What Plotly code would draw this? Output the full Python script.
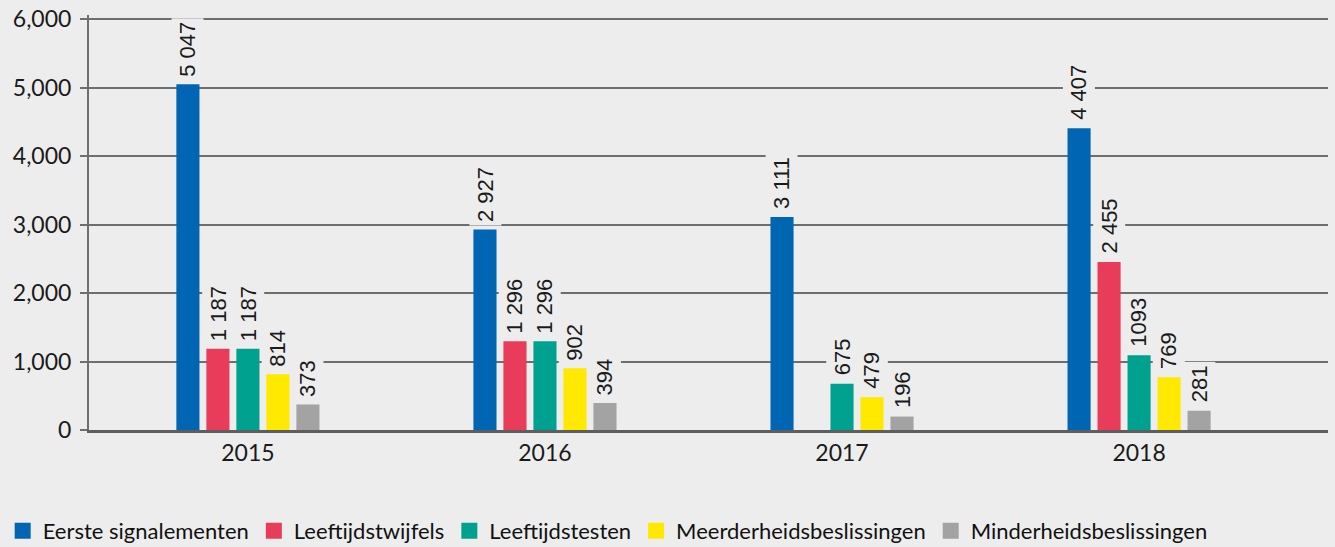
import plotly.graph_objects as go

years = ["2015", "2016", "2017", "2018"]
series_names = ["Eerste signalementen", "Leeftijdstwijfels", "Leeftijdstesten",
                "Meerderheidsbeslissingen", "Minderheidsbeslissingen"]
eerste = [5047, 2927, 3111, 4407]
twijfels = [1187, 1296, None, 2455]
testen = [1187, 1296, 675, 1093]
meerderheid = [814, 902, 479, 769]
minderheid = [373, 394, 196, 281]

eerste_lbl = ["5 047", "2 927", "3 111", "4 407"]
twijfels_lbl = ["1 187", "1 296", "", "2 455"]
testen_lbl = ["1 187", "1 296", "675", "1093"]
meerderheid_lbl = ["814", "902", "479", "769"]
minderheid_lbl = ["373", "394", "196", "281"]

colors = ["#0066b3", "#e83c5a", "#00a28f", "#ffe900", "#a3a3a3"]
values = [eerste, twijfels, testen, meerderheid, minderheid]
labels = [eerste_lbl, twijfels_lbl, testen_lbl, meerderheid_lbl, minderheid_lbl]

BG = "#ededed"
bargap = 0.495
n = len(series_names)
slot = (1 - bargap) / n

fig = go.Figure()
annotations = []
for k, (name, vals, lbls, col) in enumerate(zip(series_names, values, labels, colors)):
    fig.add_trace(go.Bar(x=years, y=vals, name=name, legendgroup=name, showlegend=False,
                         marker=dict(color=col, line=dict(width=0))))
    for i, (v, t) in enumerate(zip(vals, lbls)):
        if v is None:
            continue
        annotations.append(dict(
            x=i + (k - (n - 1) / 2) * slot, y=v, xref="x", yref="y",
            text=t, textangle=-90, showarrow=False,
            xanchor="center", yanchor="bottom", yshift=4,
            bgcolor=BG, borderpad=3,
            font=dict(family="Liberation Sans, Arial, sans-serif", size=22, color="#1a1a1a"),
        ))

# legend entries (square swatches)
for name, col in zip(series_names, colors):
    fig.add_trace(go.Scatter(x=[None], y=[None], mode="markers", name=name, legendgroup=name,
                             marker=dict(symbol="square", size=16, color=col, line=dict(width=0)),
                             hoverinfo="skip"))

fig.update_layout(
    width=1335, height=547,
    paper_bgcolor=BG, plot_bgcolor=BG,
    barmode="group", bargap=bargap, bargroupgap=0.23,
    margin=dict(l=89, r=7, t=15, b=117, autoexpand=False),
    font=dict(family="Lato, sans-serif", size=23, color="#1a1a1a"),
    annotations=annotations,
    showlegend=True,
    legend=dict(orientation="h", xref="container", yref="container",
                x=0.002, xanchor="left", y=0.0293, yanchor="middle",
                font=dict(family="Lato, sans-serif", size=22, color="#111111"),
                bgcolor="rgba(0,0,0,0)", traceorder="normal"),
)
fig.update_xaxes(
    type="category", range=[-0.535, 3.636], automargin=False,
    showline=True, linecolor="#5e5e5e", linewidth=2.5,
    showgrid=False, ticks="", ticklabelstandoff=1,
    tickfont=dict(family="Lato, sans-serif", size=23, color="#1a1a1a"),
    fixedrange=True,
)
fig.update_yaxes(
    range=[0, 6060], tickvals=[0, 1000, 2000, 3000, 4000, 5000, 6000],
    tickformat=",d", automargin=False,
    showline=True, linecolor="#6e6e6e", linewidth=2,
    ticks="outside", ticklen=7, tickwidth=1.5, tickcolor="#6e6e6e", ticklabelstandoff=4,
    showgrid=True, gridcolor="#6e6e6e", gridwidth=1.5,
    zeroline=False,
    tickfont=dict(family="Lato, sans-serif", size=23, color="#1a1a1a"),
    fixedrange=True,
)

fig.write_html("out.html", config={"displayModeBar": False},
               post_script="document.body.style.margin='0';document.body.style.padding='0';document.body.style.overflow='hidden';")
